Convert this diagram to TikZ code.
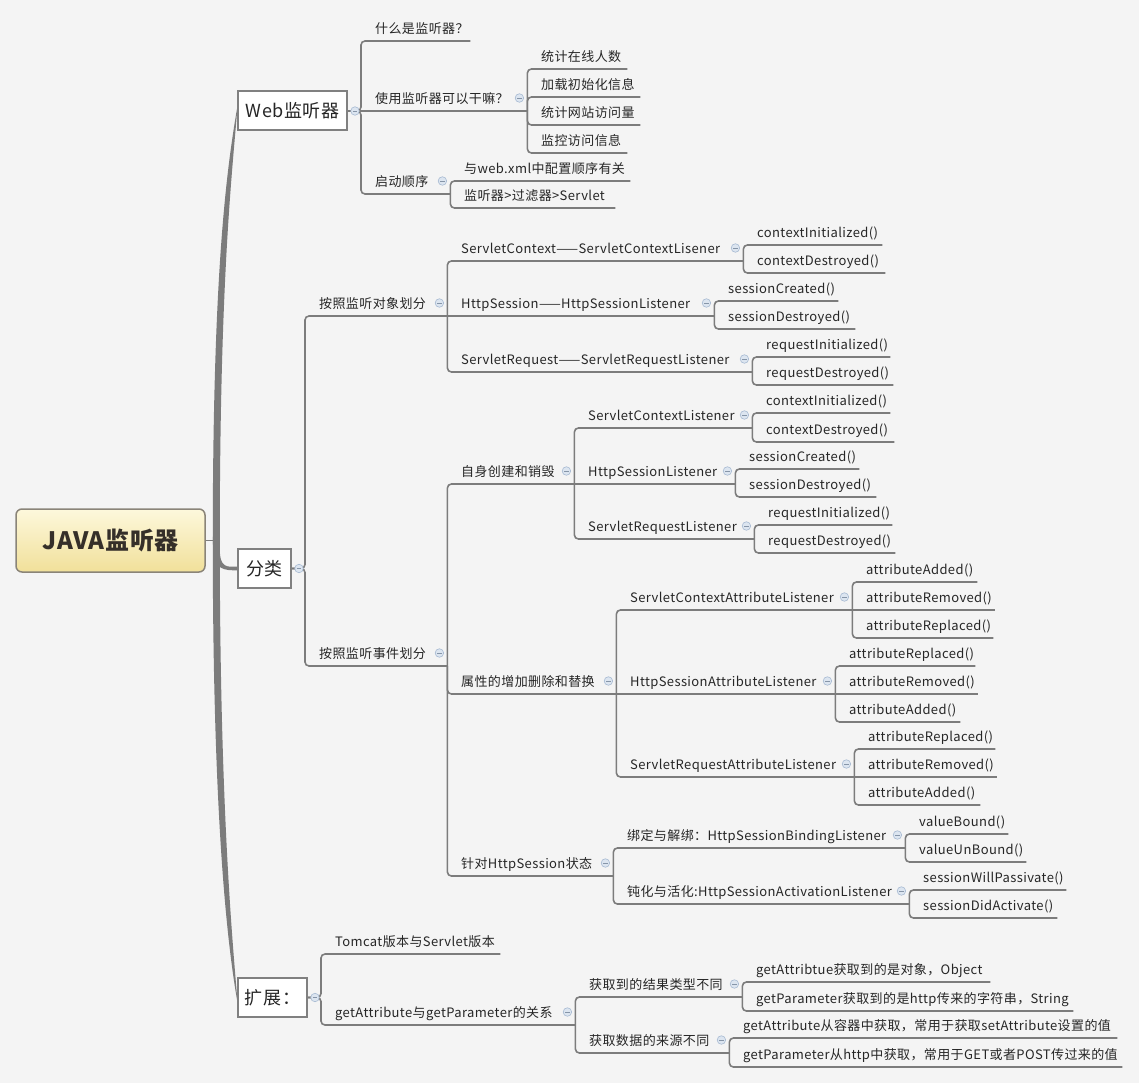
\documentclass[tikz,border=0pt]{standalone}
\usepackage{fontspec}
\setmainfont{Noto Sans CJK SC}[LetterSpace=3]
\usepackage{tikz}

\definecolor{paper}{HTML}{F4F4F4}
\definecolor{linkgray}{HTML}{7C7C7C}
\definecolor{boxgray}{HTML}{808080}
\definecolor{txt}{HTML}{262626}
\definecolor{foldfill}{HTML}{DCE5F0}
\definecolor{foldline}{HTML}{A7BAD2}
\definecolor{rootline}{HTML}{8A8478}
\definecolor{roottop}{HTML}{FDF8DC}
\definecolor{rootbot}{HTML}{F1E09A}

\begin{document}
\begin{tikzpicture}[x=1pt, y=-1pt,
  every edge/.append style={draw=linkgray, line width=1.6pt, rounded corners=4pt},
  topic/.style={anchor=south west, text width=#1pt, align=left, inner xsep=0pt, inner ysep=2.5pt,
                text depth=4.5pt, text=txt, font=\fontsize{13}{15}\selectfont,
                execute at begin node={\noindent\hspace*{14pt}}},
  topbox/.style={draw=boxgray, line width=2pt, fill=white, minimum height=39pt, inner xsep=0pt,
                 text=txt, font=\fontsize{18}{20}\selectfont},
  root/.style={draw=rootline, line width=1.5pt, rounded corners=6pt, top color=roottop, bottom color=rootbot,
               minimum width=189pt, minimum height=63pt, text=txt!90!brown, font=\fontsize{24}{26}\selectfont\bfseries},
  fold/.style={circle, inner sep=0pt, minimum size=8.5pt, draw=foldline, fill=foldfill, line width=0.6pt,
               path picture={\draw[foldline!80!black, line width=0.8pt]
                 ([xshift=2pt]path picture bounding box.west) -- ([xshift=-2pt]path picture bounding box.east);}},
  trunk/.style={fill=linkgray},
  branch/.style={to path={(\tikztostart.south east) |- (\tikztotarget.south east)}},
  straight/.style={to path={(\tikztostart.south east) -- (\tikztotarget.south east)}},
  rootbranch/.style={to path={(\tikztostart.east) -- (\tikztostart.east -| \tikztotarget.south west) |- (\tikztotarget.south east)}},
  rootstraight/.style={to path={(\tikztostart.east) -- (\tikztotarget.south east)}}]

  \useasboundingbox (0,0) rectangle (1139,1083);
  \fill[paper] (0,0) rectangle (1139,1083);

  \node[root]                         (java)  at (110.5,540.5) {JAVA监听器};
  \node[topbox, minimum width=109pt]  (web)   at (292.5,111)   {Web监听器};
  \node[topbox, minimum width=53pt]   (cls)   at (264.5,568.5) {分类};
  \node[topbox, minimum width=69pt]   (ext)   at (272.5,997.5) {扩展：};

  % Web监听器
  \node[topic=109] (what)  at (361,41)  {什么是监听器？};
  \node[topic=166] (use)   at (361,111) {使用监听器可以干嘛？};
  \node[topic=89]  (boot)  at (361,194) {启动顺序};
  \node[topic=100] (use1)  at (527,69)  {统计在线人数};
  \node[topic=113] (use2)  at (527,97)  {加载初始化信息};
  \node[topic=113] (use3)  at (527,125) {统计网站访问量};
  \node[topic=100] (use4)  at (527,153) {监控访问信息};
  \node[topic=180] (boot1) at (450,181) {与web.xml中配置顺序有关};
  \node[topic=165] (boot2) at (450,208) {监听器>过滤器>Servlet};

  % 分类 / 按照监听对象划分
  \node[topic=142] (obj)   at (305,316) {按照监听对象划分};
  \node[topic=296] (oCtx)  at (447,261) {ServletContext——ServletContextLisener};
  \node[topic=267] (oSes)  at (447,316) {HttpSession——HttpSessionListener};
  \node[topic=305] (oReq)  at (447,372) {ServletRequest——ServletRequestListener};
  \node[topic=139] (oCtx1) at (743,245) {contextInitialized()};
  \node[topic=142] (oCtx2) at (743,273) {contextDestroyed()};
  \node[topic=124] (oSes1) at (714,301) {sessionCreated()};
  \node[topic=141] (oSes2) at (714,329) {sessionDestroyed()};
  \node[topic=138] (oReq1) at (752,357) {requestInitialized()};
  \node[topic=141] (oReq2) at (752,385) {requestDestroyed()};

  % 按照监听事件划分
  \node[topic=142] (evt)   at (305,666) {按照监听事件划分};
  \node[topic=127] (life)  at (447,484) {自身创建和销毁};
  \node[topic=169] (attr)  at (447,694) {属性的增加删除和替换};
  \node[topic=166] (bind)  at (447,876) {针对HttpSession状态};
  \node[topic=178] (lCtx)  at (574,428) {ServletContextListener};
  \node[topic=161] (lSes)  at (574,484) {HttpSessionListener};
  \node[topic=180] (lReq)  at (574,539) {ServletRequestListener};
  \node[topic=138] (lCtx1) at (752,413) {contextInitialized()};
  \node[topic=142] (lCtx2) at (752,442) {contextDestroyed()};
  \node[topic=124] (lSes1) at (735,469) {sessionCreated()};
  \node[topic=141] (lSes2) at (735,497) {sessionDestroyed()};
  \node[topic=138] (lReq1) at (754,525) {requestInitialized()};
  \node[topic=141] (lReq2) at (754,553) {requestDestroyed()};
  \node[topic=236] (aCtx)  at (616,610) {ServletContextAttributeListener};
  \node[topic=219] (aSes)  at (616,694) {HttpSessionAttributeListener};
  \node[topic=238] (aReq)  at (616,777) {ServletRequestAttributeListener};
  \node[topic=125] (aCtx1) at (852,582) {attributeAdded()};
  \node[topic=143] (aCtx2) at (852,610) {attributeRemoved()};
  \node[topic=141] (aCtx3) at (852,638) {attributeReplaced()};
  \node[topic=140] (aSes1) at (835,666) {attributeReplaced()};
  \node[topic=143] (aSes2) at (835,694) {attributeRemoved()};
  \node[topic=125] (aSes3) at (835,722) {attributeAdded()};
  \node[topic=141] (aReq1) at (854,749) {attributeReplaced()};
  \node[topic=143] (aReq2) at (854,777) {attributeRemoved()};
  \node[topic=126] (aReq3) at (854,805) {attributeAdded()};
  \node[topic=292] (bBind) at (613,848) {绑定与解绑：HttpSessionBindingListener};
  \node[topic=296] (bAct)  at (613,904) {钝化与活化:HttpSessionActivationListener};
  \node[topic=103] (bBind1) at (905,834) {valueBound()};
  \node[topic=121] (bBind2) at (905,862) {valueUnBound()};
  \node[topic=157] (bAct1)  at (909,890) {sessionWillPassivate()};
  \node[topic=148] (bAct2)  at (909,918) {sessionDidActivate()};

  % 扩展
  \node[topic=179] (tom)   at (321,954)  {Tomcat版本与Servlet版本};
  \node[topic=254] (rel)   at (321,1025) {getAttribute与getParameter的关系};
  \node[topic=167] (rType) at (575,997)  {获取到的结果类型不同};
  \node[topic=154] (rSrc)  at (575,1053) {获取数据的来源不同};
  \node[topic=248] (rType1) at (742,982)  {getAttribtue获取到的是对象，Object};
  \node[topic=331] (rType2) at (742,1011) {getParameter获取到的是http传来的字符串，String};
  \node[topic=388] (rSrc1)  at (729,1038) {getAttribute从容器中获取，常用于获取setAttribute设置的值};
  \node[topic=393] (rSrc2)  at (729,1067) {getParameter从http中获取，常用于GET或者POST传过来的值};

  % trunk
  \draw[draw=linkgray, line width=1.6pt] (java.east) -- ([xshift=10pt]java.east);
  \fill[trunk] ([shift={(7pt,-4pt)}]java.east) .. controls +(0pt,260pt) and +(-12pt,-70pt) .. ([yshift=2.2pt]web.west)
               -- ([yshift=-2.2pt]web.west) .. controls +(-6pt,-70pt) and +(0pt,255pt) .. ([shift={(14pt,-4pt)}]java.east) -- cycle;
  \fill[trunk] ([shift={(7pt,4pt)}]java.east) .. controls +(0pt,-260pt) and +(-12pt,70pt) .. ([yshift=-2.2pt]ext.west)
               -- ([yshift=2.2pt]ext.west) .. controls +(-6pt,70pt) and +(0pt,-255pt) .. ([shift={(14pt,4pt)}]java.east) -- cycle;
  \fill[trunk] ([shift={(8pt,-8pt)}]java.east) .. controls +(0pt,-22pt) and +(-12pt,0pt) .. ([yshift=-1.8pt]cls.west)
               -- ([yshift=1.8pt]cls.west) .. controls +(-10pt,0pt) and +(0pt,-20pt) .. ([shift={(14pt,-8pt)}]java.east) -- cycle;

  \path (web)  edge[rootbranch] (what)  edge[rootstraight] (use)  edge[rootbranch] (boot)
        (use)  edge[branch] (use1)  edge[branch] (use2)  edge[branch] (use3)  edge[branch] (use4)
        (boot) edge[branch] (boot1) edge[branch] (boot2)
        (cls)  edge[rootbranch] (obj)  edge[rootbranch] (evt)
        (obj)  edge[branch] (oCtx)  edge[straight] (oSes)  edge[branch] (oReq)
        (oCtx) edge[branch] (oCtx1) edge[branch] (oCtx2)
        (oSes) edge[branch] (oSes1) edge[branch] (oSes2)
        (oReq) edge[branch] (oReq1) edge[branch] (oReq2)
        (evt)  edge[branch] (life)  edge[branch] (attr)  edge[branch] (bind)
        (life) edge[branch] (lCtx)  edge[straight] (lSes)  edge[branch] (lReq)
        (lCtx) edge[branch] (lCtx1) edge[branch] (lCtx2)
        (lSes) edge[branch] (lSes1) edge[branch] (lSes2)
        (lReq) edge[branch] (lReq1) edge[branch] (lReq2)
        (attr) edge[branch] (aCtx)  edge[straight] (aSes)  edge[branch] (aReq)
        (aCtx) edge[branch] (aCtx1) edge[straight] (aCtx2) edge[branch] (aCtx3)
        (aSes) edge[branch] (aSes1) edge[straight] (aSes2) edge[branch] (aSes3)
        (aReq) edge[branch] (aReq1) edge[straight] (aReq2) edge[branch] (aReq3)
        (bind) edge[branch] (bBind) edge[branch] (bAct)
        (bBind) edge[branch] (bBind1) edge[branch] (bBind2)
        (bAct)  edge[branch] (bAct1)  edge[branch] (bAct2)
        (ext)  edge[rootbranch] (tom)  edge[rootbranch] (rel)
        (rel)  edge[branch] (rType) edge[branch] (rSrc)
        (rType) edge[branch] (rType1) edge[branch] (rType2)
        (rSrc)  edge[branch] (rSrc1)  edge[branch] (rSrc2);

  % fold markers
  \foreach \p in {web,cls,ext}
    \node[fold] (\p-fold) at ([xshift=7pt]\p.east) {};
  \foreach \p in {use,boot,obj,oCtx,oSes,oReq,evt,life,attr,bind,lCtx,lSes,lReq,aCtx,aSes,aReq,bBind,bAct,rel,rType,rSrc}
    \node[fold] (\p-fold) at ([shift={(-8pt,13pt)}]\p.south east) {};
\end{tikzpicture}
\end{document}
